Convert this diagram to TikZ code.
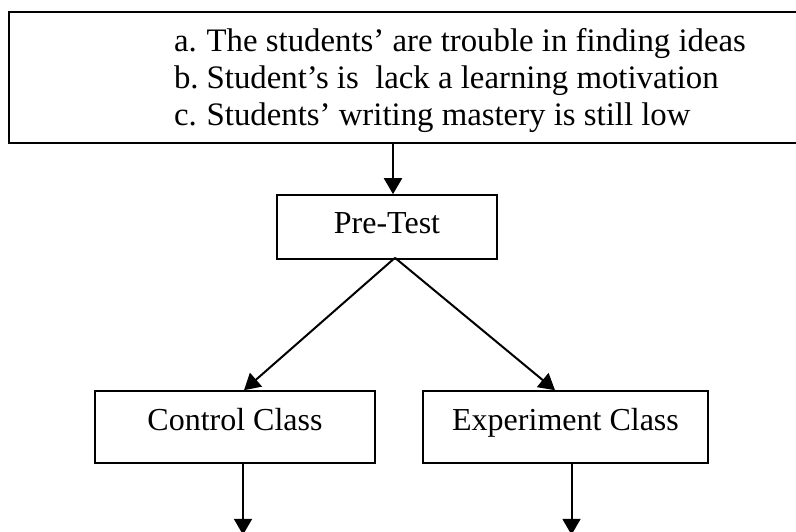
\documentclass[tikz,border=0pt]{standalone}
\usepackage{fontspec}
\setmainfont{Liberation Serif}
\usetikzlibrary{arrows.meta,positioning,calc}
\tikzset{
  caja/.style={draw, line width=0.8pt, rectangle, inner xsep=0pt, inner ysep=0pt,
    font=\fontsize{16}{18.3}\selectfont},
  clase/.style={caja, text height=19.5pt, text depth=16.5pt, minimum width=#1},
  flecha/.style={line width=1pt, -{Triangle[length=8pt,width=9pt]}}
}
\begin{document}
\begin{tikzpicture}[x=0.5pt, y=-0.5pt]
  \clip (0,0) rectangle (796,531);
  % el cuadro de los problemas
  \node[caja, minimum width=451pt, minimum height=65.5pt,
        font=\fontsize{16.4}{18.5}\selectfont] (problemas) at (460,77.5)
    {\begin{tabular}{@{}l@{\hspace{4pt}}l@{}}
      a. & The students’ are trouble in finding ideas\rule{0pt}{17pt}\\
      b. & Student’s is\ \ lack a learning motivation\\
      c. & Students’ writing mastery is still low
    \end{tabular}};
  % las cajas
  \node[clase=110pt, text height=19pt, text depth=13pt] (pretest) at (387,227) {Pre-Test};
  \node[clase=140pt] (control) at (235,427) {Control Class};
  \node[clase=142.5pt] (experiment) at (565.5,427) {Experiment Class};
  % las flechas
  \draw[flecha] ($(pretest.north |- problemas.south)+(6,0)$) -- ($(pretest.north)+(6,0)$);
  \draw[flecha] ($(pretest.south)+(8,-2)$) -- ($(control.north)+(9,0)$);
  \draw[flecha] ($(pretest.south)+(8,-2)$) -- ($(experiment.north)+(-10.5,0)$);
  \coordinate (finctrl) at ($(control.south)+(8,71)$);
  \coordinate (finexp) at ($(experiment.south)+(6,71)$);
  \draw[flecha] ($(control.south)+(8,0)$) -- (finctrl);
  \draw[flecha] ($(experiment.south)+(6,0)$) -- (finexp);
\end{tikzpicture}
\end{document}
